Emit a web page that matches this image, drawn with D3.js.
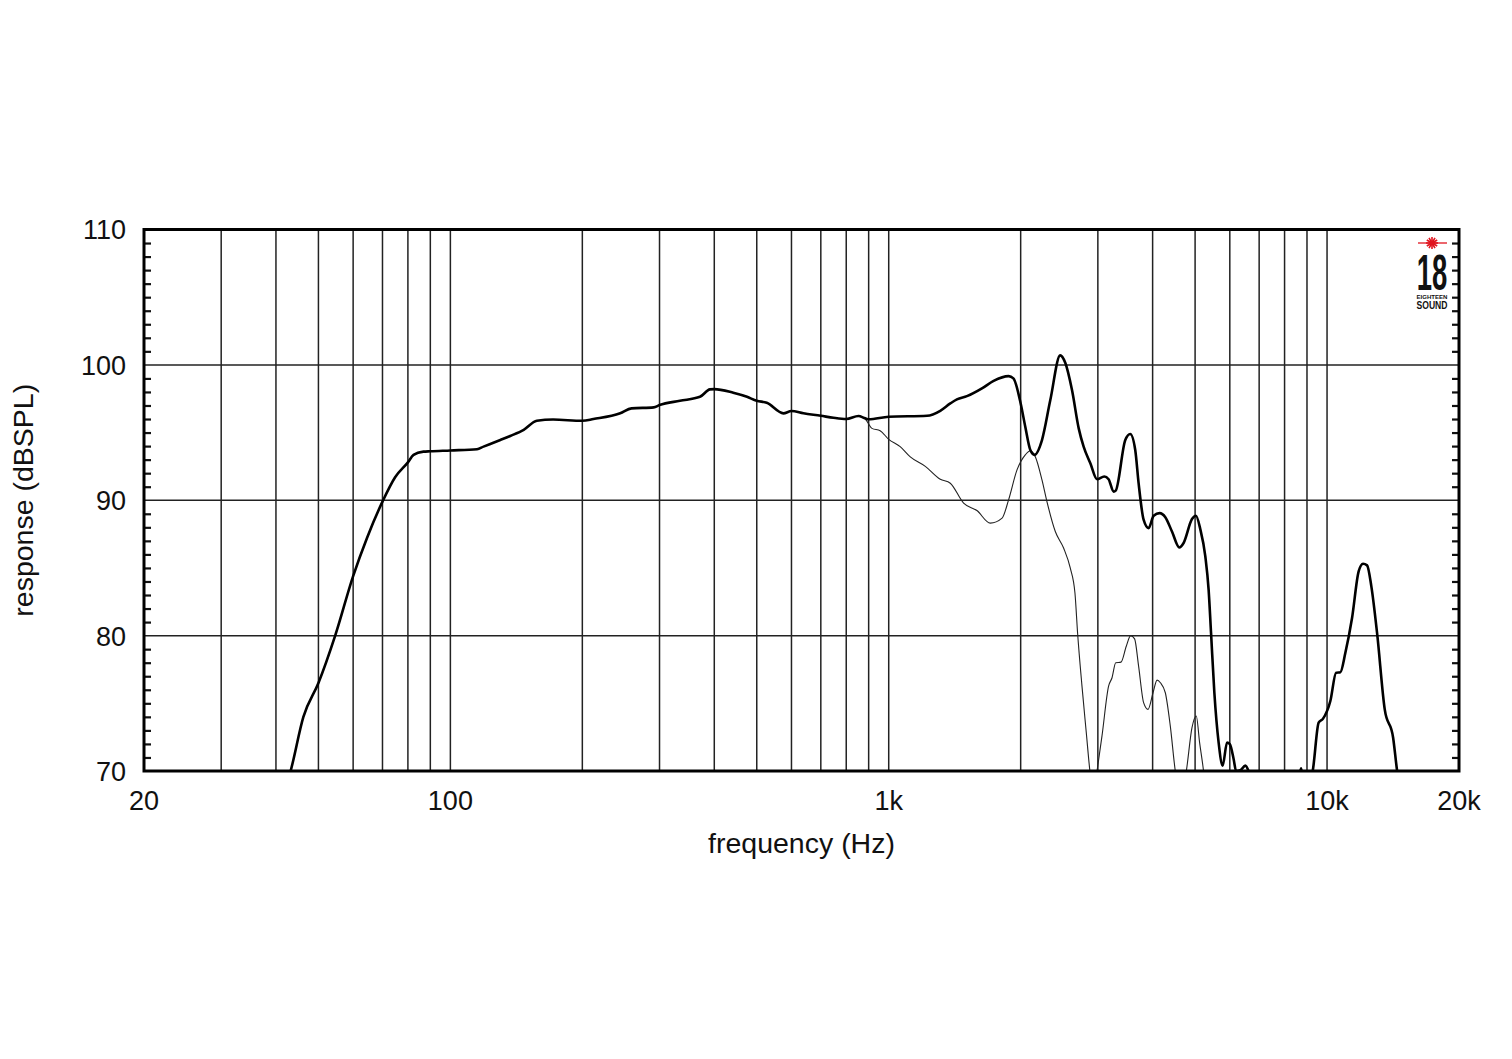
<!DOCTYPE html>
<html>
<head>
<meta charset="utf-8">
<script src="https://cdn.jsdelivr.net/npm/d3@7"></script>
<style>
  html, body { margin: 0; padding: 0; background: #fff; }
  svg { display: block; }
  text { font-family: "Liberation Sans", Arial, Helvetica, sans-serif; fill: #111; }
</style>
</head>
<body>
<svg id="chart" width="1512" height="1059"></svg>
<script>
// ---------- data ----------
const xDomain = [20, 20000];
const yDomain = [70, 110];
const xTickValues = [20, 100, 1000, 10000, 20000];
const xTickLabels = ["20", "100", "1k", "10k", "20k"];
const yTickValues = [70, 80, 90, 100, 110];
const yTickLabels = ["70", "80", "90", "100", "110"];
const xGridValues = [30, 40, 50, 60, 70, 80, 90, 100, 200, 300, 400, 500, 600, 700, 800, 900,
                     1000, 2000, 3000, 4000, 5000, 6000, 7000, 8000, 9000, 10000];
const yGridValues = [80, 90, 100];

// on-axis response (thick)
const onAxisFreq = [40, 43.2, 46.2, 50, 54.6, 60, 64.5, 70, 74.8, 80, 82.4, 86.8, 90, 100, 115, 119, 130, 137, 147,
  157.5, 171.5, 200, 212, 244, 259, 291, 300, 334, 371, 391, 400, 442, 475, 500, 527, 575, 600, 639,
  700, 748, 800, 853, 884, 900, 1000, 1223, 1311, 1382, 1431, 1508, 1632, 1735, 1877, 1925, 2000,
  2049, 2104, 2151, 2237, 2337, 2462, 2528, 2619, 2713, 2784, 2884, 2987, 3103, 3174, 3259, 3295,
  3465, 3557, 3651, 3716, 3815, 3916, 4022, 4150, 4276, 4428, 4603, 4707, 4919, 5022, 5138, 5276,
  5368, 5437, 5532, 5658, 5779, 5913, 6000, 6123, 6200, 6340, 6510, 6620, 6800, 8500, 8726, 8900,
  9274, 9568, 9793, 10175, 10486, 10725, 11010, 11403, 11806, 12080, 12340, 12620, 13005, 13540,
  14150, 14450, 14800];
const onAxisDb = [67, 70, 74.0, 76.5, 80, 84.4, 87.2, 89.9, 91.7, 92.8, 93.35, 93.59, 93.62, 93.68, 93.77, 93.96, 94.45, 94.75, 95.2,
  95.87, 95.96, 95.87, 96.0, 96.42, 96.79, 96.86, 97.03, 97.35, 97.64, 98.19, 98.21, 97.94, 97.64, 97.35, 97.2, 96.42, 96.59, 96.42,
  96.24, 96.09, 96.0, 96.22, 96.05, 95.98, 96.17, 96.24, 96.61, 97.15, 97.45, 97.69, 98.26, 98.82, 99.17, 99.0, 97.15,
  95.43, 93.71, 93.35, 94.45, 97.4, 100.7, 100.15, 98.14, 95.31, 93.96, 92.73, 91.55, 91.75, 91.55, 90.64, 90.71,
  94.45, 94.89, 93.71, 91.26, 88.56, 87.94, 88.85, 89.05, 88.75, 87.69, 86.51, 86.84, 88.61, 88.85, 87.87, 85.85,
  83.4, 80.2, 75.8, 72.1, 70.4, 72.1, 71.98, 70.87, 70.0, 70.05, 70.4, 70.0, 68.5, 68.5, 70.2, 68.5,
  70, 73.57, 73.87, 75.17, 77.26, 77.3, 78.73, 81.3, 84.75, 85.31, 85.19, 83.64, 80.2, 74.55,
  72.46, 70, 68];

// off-axis response (thin)
const offAxisFreq = [853, 884, 916, 956, 1000, 1062, 1120, 1212, 1311, 1382, 1482, 1589, 1705, 1814, 1877,
  1962, 2049, 2104, 2160, 2237, 2296, 2399, 2506, 2595, 2660, 2697, 2760, 2823, 2877, 2930, 2987,
  3066, 3174, 3232, 3295, 3388, 3483, 3565, 3639, 3716, 3815, 3905, 4009, 4095, 4167, 4276, 4389,
  4506, 4640, 4775, 4919, 5031, 5120, 5226, 5300];
const offAxisDb = [96.22, 96.0, 95.31, 95.14, 94.5, 93.96, 93.2, 92.5, 91.55, 91.26, 89.79, 89.24, 88.31, 88.68, 90.03,
  92.24, 93.35, 93.66, 93.22, 91.5, 89.9, 87.69, 86.47, 85.0, 83.15, 80.2, 76.27, 72.84, 70, 68, 70,
  72.59, 76.27, 76.89, 78.0, 78.04, 79.22, 80.0, 79.76, 77.75, 75.05, 74.55, 75.78, 76.71, 76.52, 75.78, 73.33,
  70, 68, 70, 73.2, 74.06, 72.1, 70, 68];

// ---------- layout ----------
const svg = d3.select("#chart");
const L = 144, R = 1459, T = 229.5, B = 771;
const x = d3.scaleLog().domain(xDomain).range([L, R]);
const y = d3.scaleLinear().domain(yDomain).range([B, T]);

svg.append("defs").append("clipPath").attr("id", "plotclip")
  .append("rect").attr("x", L).attr("y", T).attr("width", R - L).attr("height", B - T);

// grid
const grid = svg.append("g").attr("stroke", "#222").attr("stroke-width", 1.5);
grid.selectAll("line.v").data(xGridValues).join("line")
  .attr("x1", d => x(d)).attr("x2", d => x(d)).attr("y1", T).attr("y2", B);
grid.selectAll("line.h").data(yGridValues).join("line")
  .attr("x1", L).attr("x2", R).attr("y1", d => y(d)).attr("y2", d => y(d));

// minor ticks (1 dB) on left and right, pointing inward
const minor = d3.range(71, 110).filter(v => v % 10 !== 0);
const leftAxis = d3.axisRight(y).tickValues(minor).tickSize(7).tickFormat("");
const rightAxis = d3.axisLeft(y).tickValues(minor).tickSize(7).tickFormat("");
svg.append("g").attr("transform", `translate(${L},0)`).call(leftAxis)
  .call(g => g.select(".domain").remove())
  .call(g => g.selectAll("line").attr("stroke", "#111").attr("stroke-width", 2.2));
svg.append("g").attr("transform", `translate(${R},0)`).call(rightAxis)
  .call(g => g.select(".domain").remove())
  .call(g => g.selectAll("line").attr("stroke", "#111").attr("stroke-width", 2.2));

// curves
const line = d3.line().x(d => x(d[0])).y(d => y(d[1])).curve(d3.curveMonotoneX);
const onAxis = onAxisFreq.map((f, i) => [f, onAxisDb[i]]);
const offAxis = offAxisFreq.map((f, i) => [f, offAxisDb[i]]);
const curves = svg.append("g").attr("clip-path", "url(#plotclip)");
curves.append("path").datum(offAxis).attr("d", line)
  .attr("fill", "none").attr("stroke", "#222").attr("stroke-width", 1.1).attr("stroke-linejoin", "round");
curves.append("path").datum(onAxis).attr("d", line)
  .attr("fill", "none").attr("stroke", "#000").attr("stroke-width", 2.6).attr("stroke-linejoin", "round");

// frame
svg.append("rect").attr("x", L).attr("y", T).attr("width", R - L).attr("height", B - T)
  .attr("fill", "none").attr("stroke", "#000").attr("stroke-width", 3);

// tick labels
svg.append("g").selectAll("text").data(yTickValues).join("text")
  .attr("x", 126).attr("y", d => y(d)).attr("dy", "0.37em")
  .attr("text-anchor", "end").attr("font-size", 27)
  .text((d, i) => yTickLabels[i]);
svg.append("g").selectAll("text").data(xTickValues).join("text")
  .attr("x", d => x(d)).attr("y", 810)
  .attr("text-anchor", "middle").attr("font-size", 27)
  .text((d, i) => xTickLabels[i]);

// axis titles
svg.append("text").attr("x", (L + R) / 2).attr("y", 853).attr("text-anchor", "middle")
  .attr("font-size", 28.5).text("frequency (Hz)");
svg.append("text").attr("transform", `translate(33,${(T + B) / 2}) rotate(-90)`)
  .attr("text-anchor", "middle").attr("font-size", 28.5).text("response (dBSPL)");

// logo
const logo = svg.append("g").attr("transform", "translate(1432,0)");
logo.append("line").attr("x1", -14).attr("x2", 15).attr("y1", 243).attr("y2", 243)
  .attr("stroke", "#e0141e").attr("stroke-width", 1.3);
const spokes = d3.range(0, 360, 30);
logo.selectAll("line.sp").data(spokes).join("line")
  .attr("x1", 0).attr("y1", 243)
  .attr("x2", d => Math.cos(d * Math.PI / 180) * 6)
  .attr("y2", d => 243 + Math.sin(d * Math.PI / 180) * 6)
  .attr("stroke", "#e0141e").attr("stroke-width", 1.6);
logo.append("circle").attr("cx", 0).attr("cy", 243).attr("r", 2.5).attr("fill", "#e0141e");
logo.append("text").attr("transform", "translate(0,290) scale(0.56,1)")
  .attr("text-anchor", "middle").attr("font-size", 49).attr("font-weight", "bold").text("18");
logo.append("text").attr("x", -15.5).attr("y", 298.5).attr("font-size", 5.5).attr("font-weight", "bold")
  .attr("textLength", 31).attr("lengthAdjust", "spacingAndGlyphs").text("EIGHTEEN");
logo.append("text").attr("x", -15.5).attr("y", 309).attr("font-size", 11).attr("font-weight", "bold")
  .attr("textLength", 31).attr("lengthAdjust", "spacingAndGlyphs").text("SOUND");
</script>
</body>
</html>
